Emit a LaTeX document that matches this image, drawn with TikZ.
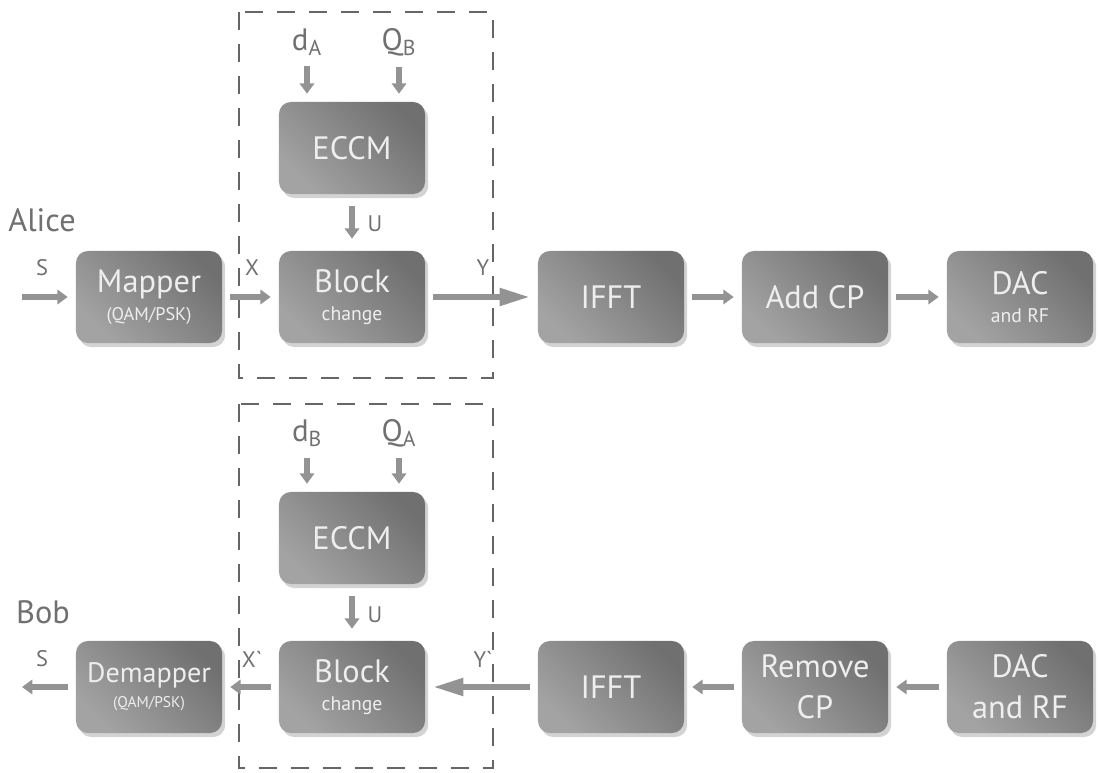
\documentclass[tikz,border=0pt]{standalone}
\usepackage{fontspec}
\setmainfont{PT Sans}
\usetikzlibrary{arrows.meta,positioning,shadows}
\definecolor{btext}{HTML}{EEEEEE}
\definecolor{blbl}{HTML}{707070}
\definecolor{bline}{HTML}{666666}
\definecolor{barrow}{HTML}{939393}
\tikzset{
  >={Triangle[length=2.6mm,width=3.6mm]},
  blockbox/.style={rounded corners=3mm, minimum width=3.65cm, minimum height=2.3cm,
                   shade, shading=axis, left color=black!36, right color=black!56,
                   shading angle=135, text=btext, align=center, inner sep=2pt,
                   font=\fontsize{23}{25}\selectfont,
                   drop shadow={opacity=0.35, shadow xshift=0.8mm, shadow yshift=-1mm}},
  who/.style={text=blbl, font=\fontsize{23}{26}\selectfont},
  sig/.style={text=blbl, font=\fontsize{16}{19}\selectfont},
  key/.style={text=blbl, font=\fontsize{22}{25}\selectfont},
  bigarrow/.style={->, draw=barrow, line width=1.4mm, shorten >=2mm, shorten <=2mm},
  longarrow/.style={-{Triangle[length=7.5mm,width=4.2mm]}, draw=barrow,
                    line width=1.4mm, shorten >=2mm, shorten <=2mm},
  grp/.style={draw=bline, line width=0.6mm, dash pattern=on 4.5mm off 3.5mm},
}
\newcommand{\smalltxt}[1]{{\fontsize{14}{16}\selectfont #1}}
\newcommand{\tinytxt}[1]{{\fontsize{13}{15}\selectfont #1}}

\begin{document}
\begin{tikzpicture}[x=0.025cm,y=-0.025cm]
  \useasboundingbox (0,0) rectangle (1100,773);

  % ---- Alice: transmitter ----
  \draw[grp] (239,12) rectangle (493,378);
  \node[who] (alice) at (42,220) {Alice};
  \node[blockbox] (mapA) at (149,297) {Mapper\\[-5pt]\tinytxt{(QAM/PSK)}};
  \node[blockbox] (eccmA) at (352,148) {ECCM};
  \node[blockbox] (blkA) at (352,297) {Block\\[-5pt]\smalltxt{change}};
  \node[blockbox] (ifftA) at (611,297) {IFFT};
  \node[blockbox] (cpA) at (815,297) {Add CP};
  \node[blockbox] (dacA) at (1020,297) {DAC\\[-5pt]\smalltxt{and RF}};
  \node[key] (dA) at (307,42) {d\textsubscript{A}};
  \node[key] (qB) at (399,42) {Q\textsubscript{B}};
  \node[sig] (sA) at (42,268) {S};
  \node[sig] (xA) at (252,268) {X};
  \node[sig] (yA) at (483,268) {Y};
  \node[sig] (uA) at (375,224) {U};
  \coordinate (inA) at (14,297);
  \draw[bigarrow] (inA) -- (mapA);
  \draw[bigarrow] (mapA) -- (blkA);
  \draw[longarrow] (blkA) -- (ifftA);
  \draw[bigarrow] (ifftA) -- (cpA);
  \draw[bigarrow] (cpA) -- (dacA);
  \draw[bigarrow, shorten <=1.5mm] (dA.south) -- (dA.south |- eccmA.north);
  \draw[bigarrow, shorten <=1.5mm] (qB.south) -- (qB.south |- eccmA.north);
  \draw[bigarrow, shorten <=3mm, shorten >=3mm] (eccmA) -- (blkA);

  % ---- Bob: receiver ----
  \draw[grp] (239,404) rectangle (493,768);
  \node[who] (bob) at (43,612) {Bob};
  \node[blockbox, font=\fontsize{20}{22}\selectfont] (demB) at (149,687)
    {Demapper\\[-4pt]{\fontsize{11}{13}\selectfont(QAM/PSK)}};
  \node[blockbox] (eccmB) at (352,538) {ECCM};
  \node[blockbox] (blkB) at (352,687) {Block\\[-5pt]\smalltxt{change}};
  \node[blockbox] (ifftB) at (611,687) {IFFT};
  \node[blockbox] (cpB) at (815,687) {Remove\\[4pt]CP};
  \node[blockbox] (dacB) at (1020,687) {DAC\\[4pt]and RF};
  \node[key] (dB) at (307,433) {d\textsubscript{B}};
  \node[key] (qA) at (399,433) {Q\textsubscript{A}};
  \node[sig] (sB) at (42,659) {S};
  \node[sig] (xB) at (252,659) {X\textasciigrave};
  \node[sig] (yB) at (483,659) {Y\textasciigrave};
  \node[sig] (uB) at (375,615) {U};
  \coordinate (outB) at (14,687);
  \draw[bigarrow] (dacB) -- (cpB);
  \draw[bigarrow] (cpB) -- (ifftB);
  \draw[longarrow] (ifftB) -- (blkB);
  \draw[bigarrow] (blkB) -- (demB);
  \draw[bigarrow] (demB) -- (outB);
  \draw[bigarrow, shorten <=1.5mm] (dB.south) -- (dB.south |- eccmB.north);
  \draw[bigarrow, shorten <=1.5mm] (qA.south) -- (qA.south |- eccmB.north);
  \draw[bigarrow, shorten <=3mm, shorten >=3mm] (eccmB) -- (blkB);

\end{tikzpicture}
\end{document}
